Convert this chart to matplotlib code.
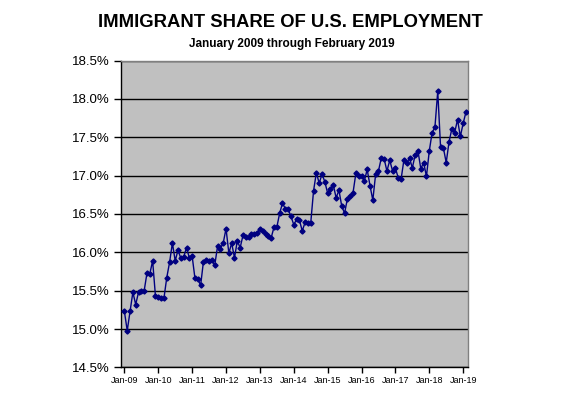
import matplotlib
matplotlib.use('Agg')
import matplotlib.pyplot as plt
import numpy as np

plt.rcParams['font.family'] = ['Liberation Sans', 'DejaVu Sans']

# monthly immigrant share of employment (%), Jan 2009 .. Feb 2019
share_2009 = [15.23, 14.98, 15.23, 15.48, 15.32, 15.48, 15.50, 15.50, 15.73, 15.72, 15.89, 15.43]
share_2010 = [15.42, 15.40, 15.40, 15.67, 15.87, 16.12, 15.89, 16.03, 15.92, 15.94, 16.06, 15.93]
share_2011 = [15.95, 15.66, 15.65, 15.57, 15.88, 15.90, 15.89, 15.90, 15.83, 16.08, 16.05, 16.12]
share_2012 = [16.31, 15.99, 16.12, 15.93, 16.15, 16.06, 16.22, 16.20, 16.20, 16.24, 16.24, 16.25]
share_2013 = [16.31, 16.28, 16.24, 16.21, 16.19, 16.33, 16.33, 16.51, 16.64, 16.57, 16.56, 16.47]
share_2014 = [16.36, 16.43, 16.42, 16.28, 16.39, 16.38, 16.38, 16.80, 17.04, 16.90, 17.02, 16.92]
share_2015 = [16.77, 16.82, 16.88, 16.71, 16.81, 16.60, 16.51, 16.70, 16.74, 16.78, 17.03, 17.00]
share_2016 = [17.00, 16.93, 17.08, 16.87, 16.68, 17.02, 17.06, 17.23, 17.22, 17.06, 17.20, 17.06]
share_2017 = [17.10, 16.97, 16.95, 17.20, 17.16, 17.23, 17.10, 17.27, 17.32, 17.09, 17.17, 16.99]
share_2018 = [17.32, 17.56, 17.63, 18.10, 17.37, 17.36, 17.17, 17.44, 17.61, 17.56, 17.73, 17.51]
share_2019 = [17.68, 17.83]

year_labels = ['Jan-09', 'Jan-10', 'Jan-11', 'Jan-12', 'Jan-13', 'Jan-14',
               'Jan-15', 'Jan-16', 'Jan-17', 'Jan-18', 'Jan-19']
y_ticks = [14.5, 15.0, 15.5, 16.0, 16.5, 17.0, 17.5, 18.0, 18.5]

share = (share_2009 + share_2010 + share_2011 + share_2012 + share_2013 + share_2014
         + share_2015 + share_2016 + share_2017 + share_2018 + share_2019)
months = np.arange(len(share))

fig = plt.figure(figsize=(5.77, 3.93), dpi=100)
ax = fig.add_axes([0.209, 0.065, 0.602, 0.781])
ax.set_facecolor('#c0c0c0')

ax.plot(months, share, color='#000080', linewidth=1.0, marker='D',
        markersize=2.6, markerfacecolor='#000080', markeredgecolor='#000080', zorder=3)

ax.set_xlim(-1.35, 121.7)
ax.set_ylim(14.5, 18.5)
ax.set_yticks(y_ticks)
ax.set_yticklabels(['%.1f%%' % v for v in y_ticks], fontsize=9.5)
ax.set_xticks(np.arange(0, len(share), 12))
ax.set_xticklabels(year_labels, fontsize=6.5)
ax.yaxis.grid(True, color='black', linewidth=1.0)
ax.set_axisbelow(True)
ax.tick_params(axis='y', direction='out', length=5, width=1, pad=3)
ax.tick_params(axis='x', direction='out', length=4, width=1, pad=2)

for side in ['left', 'bottom']:
    ax.spines[side].set_color('black')
    ax.spines[side].set_linewidth(1.0)
for side in ['top', 'right']:
    ax.spines[side].set_color('#808080')
    ax.spines[side].set_linewidth(1.0)

fig.text(0.503, 0.944, 'IMMIGRANT SHARE OF U.S. EMPLOYMENT', ha='center', va='center',
         fontsize=13.3, fontweight='bold')
fig.text(0.506, 0.888, 'January 2009 through February 2019', ha='center', va='center',
         fontsize=8.5, fontweight='bold')

fig.savefig('out.png', dpi=100)
